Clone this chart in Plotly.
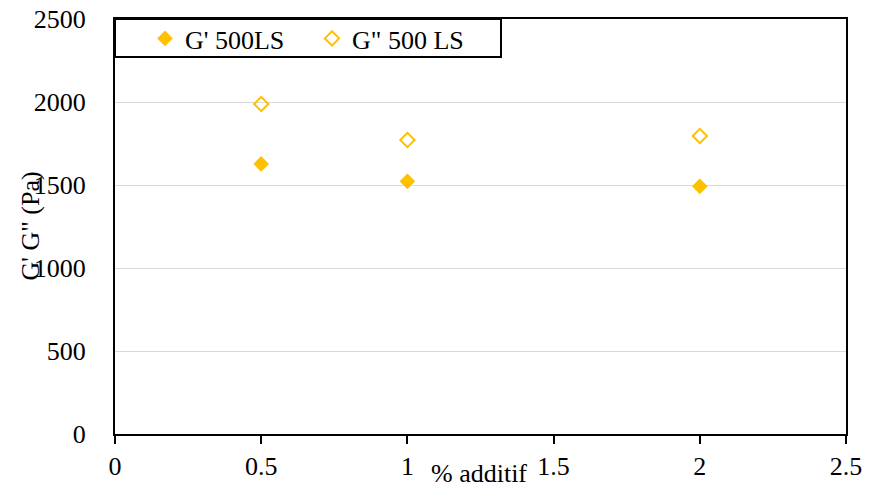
import plotly.graph_objects as go

x_additif = [0.5, 1, 2]
g_prime = [1627, 1522, 1492]
g_second = [1988, 1771, 1795]
series_names = ["G' 500LS", 'G" 500 LS']
x_title = "% additif"
y_title = 'G\' G" (Pa)'

GOLD = "#FFC000"
FONT = "Liberation Serif, Times New Roman, serif"
FS = 26

fig = go.Figure()
fig.add_trace(go.Scatter(
    x=x_additif, y=g_prime, mode="markers", name=series_names[0],
    marker=dict(symbol="diamond", size=12, color=GOLD, line=dict(width=0)),
))
fig.add_trace(go.Scatter(
    x=x_additif, y=g_second, mode="markers", name=series_names[1],
    marker=dict(symbol="diamond-open", size=11, color=GOLD, line=dict(width=2, color=GOLD)),
))

L, R, T, B = 115, 30, 19, 54
W, H = 876, 488
pw = W - L - R
ph = H - T - B

fig.update_layout(
    width=W, height=H,
    margin=dict(l=L, r=R, t=T, b=B, autoexpand=False),
    paper_bgcolor="white", plot_bgcolor="white",
    font=dict(family=FONT, size=FS, color="black"),
    showlegend=True,
    legend=dict(
        orientation="h", x=(145 - L) / pw, xanchor="left",
        y=1 + 4 / ph, yanchor="top",
        bgcolor="rgba(0,0,0,0)", borderwidth=0,
        font=dict(family=FONT, size=FS, color="black"),
        entrywidth=122,
    ),
    xaxis=dict(
        range=[0, 2.5], tickvals=[0, 0.5, 1, 1.5, 2, 2.5],
        ticktext=["0", "0.5", "1", "1.5", "2", "2.5"],
        showgrid=False, zeroline=False, automargin=False,
        showline=True, linecolor="black", linewidth=2, mirror=True,
        ticks="outside", ticklen=8, tickwidth=2, tickcolor="black",
        fixedrange=True,
    ),
    yaxis=dict(
        range=[0, 2500], tickvals=[0, 500, 1000, 1500, 2000, 2500],
        showgrid=True, gridcolor="#d9d9d9", gridwidth=1, zeroline=False,
        automargin=False,
        showline=True, linecolor="black", linewidth=2, mirror=True,
        ticks="", ticklabelstandoff=22,
        fixedrange=True,
    ),
    shapes=[dict(
        type="rect", xref="paper", yref="paper",
        x0=0, x1=(501 - L) / pw, y0=1 - (57 - T) / ph, y1=1,
        line=dict(color="black", width=2), fillcolor="white", layer="above",
    )],
    annotations=[
        dict(text=x_title, xref="paper", yref="paper", x=(479 - L) / pw, y=0,
             xanchor="center", yanchor="middle", yshift=-39, showarrow=False,
             font=dict(family=FONT, size=FS, color="black")),
        dict(text=y_title, xref="paper", yref="paper", x=(30 - L) / pw, y=0.5,
             xanchor="center", yanchor="middle", textangle=-90, showarrow=False,
             font=dict(family=FONT, size=FS, color="black")),
    ],
)

fig.write_html("out.html", config={"displayModeBar": False})

# remove the default browser body margin so the figure sits at (0, 0)
with open("out.html", "r", encoding="utf-8") as f:
    html = f.read()
html = html.replace("<body>", '<body style="margin:0;overflow:hidden">', 1)
with open("out.html", "w", encoding="utf-8") as f:
    f.write(html)
